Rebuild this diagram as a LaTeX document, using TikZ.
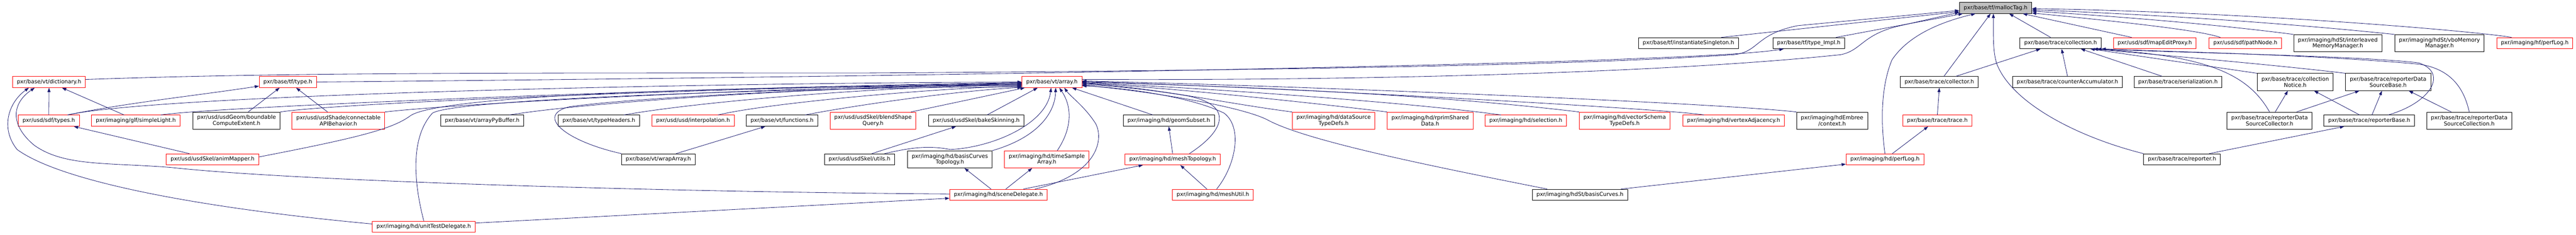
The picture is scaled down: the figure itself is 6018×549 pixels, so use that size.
\documentclass[tikz,border=0pt]{standalone}
\usepackage{fontspec}
\setmainfont{DejaVu Sans}
\usepackage{tikz}
\usetikzlibrary{arrows.meta}
\definecolor{edgeblue}{HTML}{191970}
\tikzset{every picture/.style={line width=1pt}}
\tikzset{every node/.style={draw, fill=white, inner xsep=10pt, inner ysep=0pt, minimum height=26pt, align=center, font=\fontsize{12.7}{14}\selectfont}}
\tikzset{trunc/.style={draw=red}, root/.style={fill=black!25}, two/.style={minimum height=40pt}}
\tikzset{dep/.style={draw=edgeblue, -{Triangle[length=10pt,width=7pt]}}}

\begin{document}
\begin{tikzpicture}[x=1pt,y=-1pt]
\fill[white] (0,0) rectangle (6018,549);
\useasboundingbox (0,0) rectangle (6018,549);
\node[root] (1) at (4662,18.5) {pxr/base/tf/mallocTag.h};
\node (2) at (3944.5,101) {pxr/base/tf/instantiateSingleton.h};
\node (3) at (4225.5,101) {pxr/base/tf/type\_Impl.h};
\node (4) at (4814,101) {pxr/base/trace/collection.h};
\node[trunc] (5) at (5034,101) {pxr/usd/sdf/mapEditProxy.h};
\node[trunc] (6) at (5245.5,101) {pxr/usd/sdf/pathNode.h};
\node[two] (7) at (5461.5,101) {pxr/imaging/hdSt/interleaved\\MemoryManager.h};
\node[two] (8) at (5699,101) {pxr/imaging/hdSt/vboMemory\\Manager.h};
\node[trunc] (9) at (5921.5,101) {pxr/imaging/hf/perfLog.h};
\node[trunc] (10) at (114.5,192) {pxr/base/vt/dictionary.h};
\node[trunc] (11) at (672.5,192) {pxr/base/tf/type.h};
\node[trunc] (12) at (2457.5,192) {pxr/base/vt/array.h};
\node (13) at (4530.5,192) {pxr/base/trace/collector.h};
\node (14) at (4830,192) {pxr/base/trace/counterAccumulator.h};
\node (15) at (5088,192) {pxr/base/trace/serialization.h};
\node[two] (16) at (5362,192) {pxr/base/trace/collection\\Notice.h};
\node[two] (17) at (5579,192) {pxr/base/trace/reporterData\\SourceBase.h};
\node[trunc] (18) at (114,282.5) {pxr/usd/sdf/types.h};
\node[trunc] (19) at (317.5,282.5) {pxr/imaging/glf/simpleLight.h};
\node[two] (20) at (552.5,282.5) {pxr/usd/usdGeom/boundable\\ComputeExtent.h};
\node[two,trunc] (21) at (790.5,282.5) {pxr/usd/usdShade/connectable\\APIBehavior.h};
\node (22) at (1126.5,282.5) {pxr/base/vt/arrayPyBuffer.h};
\node (23) at (1399,282.5) {pxr/base/vt/typeHeaders.h};
\node[trunc] (24) at (1619,282.5) {pxr/usd/usd/interpolation.h};
\node (25) at (1827,282.5) {pxr/base/vt/functions.h};
\node[two,trunc] (26) at (2039.5,282.5) {pxr/usd/usdSkel/blendShape\\Query.h};
\node (27) at (2280.5,282.5) {pxr/usd/usdSkel/bakeSkinning.h};
\node (28) at (2730.5,282.5) {pxr/imaging/hd/geomSubset.h};
\node[two,trunc] (29) at (3115.5,282.5) {pxr/imaging/hd/dataSource\\TypeDefs.h};
\node[two,trunc] (30) at (3341,282.5) {pxr/imaging/hd/rprimShared\\Data.h};
\node[trunc] (31) at (3564.5,282.5) {pxr/imaging/hd/selection.h};
\node[two,trunc] (32) at (3795.5,282.5) {pxr/imaging/hd/vectorSchema\\TypeDefs.h};
\node[trunc] (33) at (4050,282.5) {pxr/imaging/hd/vertexAdjacency.h};
\node[two] (34) at (4280,282.5) {pxr/imaging/hdEmbree\\/context.h};
\node[trunc] (35) at (4526,282.5) {pxr/base/trace/trace.h};
\node[two] (36) at (5302,282.5) {pxr/base/trace/reporterData\\SourceCollector.h};
\node (37) at (5535,282.5) {pxr/base/trace/reporterBase.h};
\node[two] (38) at (5768.5,282.5) {pxr/base/trace/reporterData\\SourceCollection.h};
\node[trunc] (39) at (496.5,373) {pxr/usd/usdSkel/animMapper.h};
\node (40) at (1538,373) {pxr/base/vt/wrapArray.h};
\node (41) at (2008,373) {pxr/usd/usdSkel/utils.h};
\node[two] (42) at (2219,373) {pxr/imaging/hd/basisCurves\\Topology.h};
\node[two,trunc] (43) at (2445.5,373) {pxr/imaging/hd/timeSample\\Array.h};
\node[trunc] (44) at (2739.5,373) {pxr/imaging/hd/meshTopology.h};
\node[trunc] (45) at (4403.5,373) {pxr/imaging/hd/perfLog.h};
\node (46) at (5097.5,373) {pxr/base/trace/reporter.h};
\node[trunc] (47) at (2332.5,456) {pxr/imaging/hd/sceneDelegate.h};
\node[trunc] (48) at (2833.5,456) {pxr/imaging/hd/meshUtil.h};
\node (49) at (3691,456) {pxr/imaging/hdSt/basisCurves.h};
\node[trunc] (50) at (990,530.5) {pxr/imaging/hd/unitTestDelegate.h};
% into mallocTag
\draw[dep] (2.10) -- (1.186);
\draw[dep] (3.12) -- (1.190);
\draw[dep] (10.4) .. controls (600,172) and (1000,170) .. (2000,171) .. controls (3000,165) and (3700,152) .. (4050,128) .. controls (4110,122) and (4100,80) .. (4200,60) -- (1.184);
\draw[dep] (12.5) .. controls (3200,189) and (3900,170) .. (4300,128) .. controls (4350,118) and (4350,80) .. (4440,60) -- (1.187);
\draw[dep] (13.51) -- (1.229);
\draw[dep] (45.north) .. controls (4393,280) and (4395,200) .. (4420,140) .. controls (4460,80) and (4540,50) .. (1.196);
\draw[dep] (46.north west) .. controls (4850,320) and (4700,240) .. (4665,150) .. controls (4655,120) and (4657,80) .. (1.249);
\draw[dep] (4.150) -- (1.337);
\draw[dep] (5.166) -- (1.348);
\draw[dep] (6.167) .. controls (5150,75) and (5050,60) .. (1.352);
\draw[dep] (7.north west) .. controls (5200,60) and (5000,42) .. (1.355);
\draw[dep] (8.north west) .. controls (5300,50) and (5000,33) .. (1.357);
\draw[dep] (9.166) .. controls (5800,75) and (5300,30) .. (1.359);
\draw[dep] (11.east) .. controls (1500,185) and (2800,170) .. (3700,142) .. controls (3900,134) and (4080,128) .. (3.193);
% trace
\draw[dep] (13.19) -- (4.196);
\draw[dep] (14.north) -- (4.280);
\draw[dep] (15.160) -- (4.344);
\draw[dep] (16.north west) -- (4.349);
\draw[dep] (17.north west) .. controls (5300,150) and (5000,125) .. (4.350);
\draw[dep] (36.north) .. controls (5250,170) and (5150,130) .. (4.350);
\draw[dep] (37.17) .. controls (5680,240) and (5720,170) .. (5650,147) .. controls (5500,130) and (5100,124) .. (4.351);
\draw[dep] (38.north) .. controls (5755,200) and (5720,160) .. (5650,150) .. controls (5400,128) and (5100,122) .. (4.352);
\draw[dep] (36.57) -- (16.230);
\draw[dep] (36.18) -- (17.197);
\draw[dep] (37.149) -- (16.335);
\draw[dep] (37.65) -- (17.235);
\draw[dep] (38.154) -- (17.337);
\draw[dep] (46.12) -- (37.193);
\draw[dep] (35.north) -- (13.south);
\draw[dep] (45.38) -- (35.212);
\draw[dep] (49.8) -- (45.187);
% into array, right
\draw[dep] (49.170) .. controls (3350,390) and (3050,330) .. (2960,280) .. controls (2900,250) and (2700,215) .. (12.354);
\draw[dep] (28.160) -- (12.344);
\draw[dep] (29.north west) .. controls (2850,240) and (2700,205) .. (12.357);
\draw[dep] (30.north west) .. controls (3000,233) and (2700,203) .. (12.358);
\draw[dep] (31.167) .. controls (3300,240) and (2800,205) .. (12.359);
\draw[dep] (32.north west) .. controls (3300,215) and (2800,200) .. (12.0);
\draw[dep] (33.169) .. controls (3900,255) and (3000,205) .. (12.1);
\draw[dep] (34.north west) .. controls (4000,240) and (3000,200) .. (12.2);
\draw[dep] (44.19) .. controls (2870,300) and (2880,240) .. (2760,222) .. controls (2650,205) and (2580,200) .. (12.355);
\draw[dep] (48.57) .. controls (2885,390) and (2905,300) .. (2860,265) .. controls (2780,225) and (2620,205) .. (12.353);
% into array, below
\draw[dep] (47.9) .. controls (2560,410) and (2580,330) .. (2560,290) .. controls (2535,250) and (2500,225) .. (12.335);
\draw[dep] (43.40) .. controls (2505,300) and (2505,250) .. (12.322);
\draw[dep] (42.north east) .. controls (2430,320) and (2465,260) .. (12.303);
\draw[dep] (41.13) .. controls (2130,345) and (2170,340) .. (2220,350) .. controls (2320,345) and (2445,290) .. (12.262);
\draw[dep] (27.28) -- (12.202);
\draw[dep] (26.13) -- (12.192);
% into array, left
\draw[dep] (25.14) .. controls (1950,255) and (2200,215) .. (12.190);
\draw[dep] (24.13) .. controls (1800,240) and (2200,205) .. (12.188);
\draw[dep] (23.13) .. controls (1650,235) and (2100,200) .. (12.186);
\draw[dep] (22.12) .. controls (1400,235) and (2000,200) .. (12.184);
\draw[dep] (40.north west) .. controls (1320,330) and (1250,270) .. (1330,250) .. controls (1500,225) and (2100,200) .. (12.185);
\draw[dep] (18.17) .. controls (350,225) and (1500,195) .. (12.180);
\draw[dep] (19.13) .. controls (500,250) and (1600,205) .. (12.181);
\draw[dep] (20.north east) .. controls (800,240) and (1700,205) .. (12.182);
\draw[dep] (21.north east) .. controls (1100,240) and (1800,205) .. (12.183);
\draw[dep] (39.3) .. controls (850,320) and (920,300) .. (960,270) .. controls (1050,215) and (1900,200) .. (12.187);
\draw[dep] (50.north) .. controls (965,420) and (960,320) .. (1010,265) .. controls (1060,230) and (1900,205) .. (12.189);
% the rest
\draw[dep] (41.25) -- (27.196);
\draw[dep] (40.18) -- (25.199);
\draw[dep] (39.166) -- (18.347);
\draw[dep] (18.north) -- (10.south);
\draw[dep] (19.154) -- (10.336);
\draw[dep] (18.17) .. controls (300,240) and (450,225) .. (11.188);
\draw[dep] (20.37) -- (11.215);
\draw[dep] (21.141) -- (11.325);
\draw[dep] (50.177) .. controls (500,490) and (150,430) .. (40,350) .. controls (0,300) and (20,240) .. (10.196);
\draw[dep] (47.179) .. controls (1600,450) and (700,425) .. (400,392) .. controls (250,380) and (150,390) .. (80,340) .. controls (20,290) and (30,240) .. (10.202);
\draw[dep] (50.4) -- (47.184);
\draw[dep] (47.142) -- (42.329);
\draw[dep] (47.38) -- (43.211);
\draw[dep] (47.13) -- (44.191);
\draw[dep] (44.north) -- (28.south);
\draw[dep] (48.136) -- (44.323);
\end{tikzpicture}
\end{document}
